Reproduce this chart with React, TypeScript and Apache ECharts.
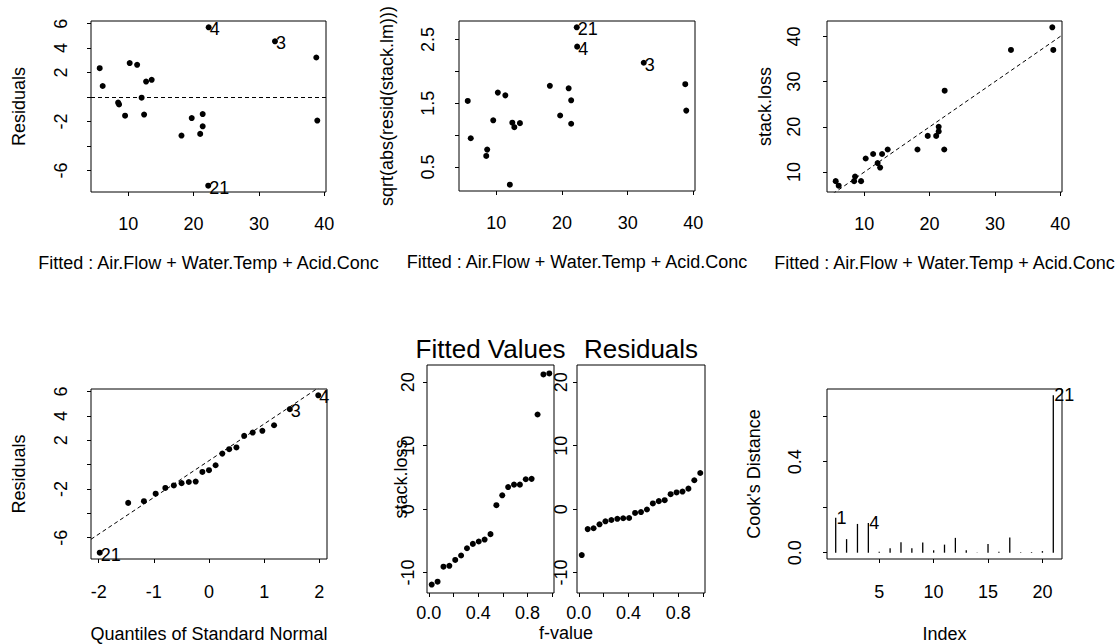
import React, { useEffect, useRef } from "react";
import * as echarts from "echarts";

const FONT = '"Liberation Sans", Arial, Helvetica, sans-serif';

// Run numbers of the stackloss observations
const runIds = ["1", "2", "3", "4", "5", "6", "7", "8", "9", "10", "11", "12", "13", "14", "15", "16", "17", "18", "19", "20", "21"];

// lm(stack.loss ~ Air.Flow + Water.Temp + Acid.Conc)
const fittedValues = [38.7658, 38.9175, 32.444, 22.302, 19.7119, 21.0071, 21.3896, 21.3896, 18.1444, 12.7333, 11.3637, 10.2215, 12.4287, 12.0501, 5.6386, 6.0948, 9.5204, 8.4555, 8.5983, 13.5879, 22.2378];
const residualValues = [3.2348, -1.9175, 4.556, 5.698, -1.7119, -3.0071, -2.3896, -1.3896, -3.1444, 1.2667, 2.6362, 2.7785, -1.4287, -0.0501, 2.3614, 0.9052, -1.5204, -0.4555, -0.5983, 1.4121, -7.2378];
const stackLoss = [42, 37, 37, 28, 18, 18, 19, 20, 15, 14, 14, 13, 11, 12, 8, 7, 8, 8, 9, 15, 15];
const sqrtAbsResiduals = [1.7986, 1.3847, 2.1345, 2.387, 1.3084, 1.7341, 1.5458, 1.1788, 1.7733, 1.1255, 1.6236, 1.6669, 1.1953, 0.2238, 1.5367, 0.9514, 1.233, 0.6749, 0.7735, 1.1883, 2.6903];

// Normal QQ plot of the residuals
const normalQuantiles = [-1.9807, -1.4653, -1.1798, -0.9674, -0.7916, -0.6375, -0.4972, -0.3661, -0.2411, -0.1196, 0, 0.1196, 0.2411, 0.3661, 0.4972, 0.6375, 0.7916, 0.9674, 1.1798, 1.4653, 1.9807];
const sortedResiduals = [-7.2378, -3.1444, -3.0071, -2.3896, -1.9175, -1.7119, -1.5204, -1.4287, -1.3896, -0.5983, -0.4555, -0.0501, 0.9052, 1.2667, 1.4121, 2.3614, 2.6362, 2.7785, 3.2348, 4.556, 5.698];
const sortedResidualRuns = ["21", "9", "6", "7", "2", "5", "17", "13", "8", "19", "18", "14", "16", "10", "20", "15", "11", "12", "1", "3", "4"];
const qqIntercept = 0.3248;
const qqSlope = 3.0195;

// Residual-fit spread
const fValues = [0.0238, 0.0714, 0.119, 0.1667, 0.2143, 0.2619, 0.3095, 0.3571, 0.4048, 0.4524, 0.5, 0.5476, 0.5952, 0.6429, 0.6905, 0.7381, 0.7857, 0.8333, 0.881, 0.9286, 0.9762];
const centeredFittedSorted = [-11.885, -11.429, -9.068, -8.926, -8.003, -7.302, -6.16, -5.474, -5.095, -4.791, -3.936, 0.621, 2.188, 3.483, 3.866, 3.866, 4.714, 4.778, 14.92, 21.242, 21.394];

// Cook's distance per run
const cooksDistance = [0.1538, 0.0597, 0.1265, 0.1308, 0.0038, 0.0195, 0.0465, 0.0191, 0.0445, 0.0106, 0.0355, 0.0652, 0.0105, 0.0005, 0.0383, 0.0042, 0.0663, 0.0022, 0.0029, 0.007, 0.6921];

// Ticks and labelled ticks
const fitTicks = [10, 20, 30, 40];
const residTicks = [-6, -4, -2, 0, 2, 4, 6];
const residLabels = [-6, -2, 2, 4, 6];
const sqrtTicks = [0.5, 1, 1.5, 2, 2.5];
const sqrtLabels = [0.5, 1.5, 2.5];
const lossTicks = [10, 20, 30, 40];
const quantTicks = [-2, -1, 0, 1, 2];
const rfsYTicks = [-10, 0, 10, 20];
const fTicks = [0, 0.2, 0.4, 0.6, 0.8, 1];
const fLabels = [0, 0.4, 0.8];
const indexTicks = [5, 10, 15, 20];
const cookTicks = [0, 0.2, 0.4, 0.6];
const cookLabels = [0, 0.4];

// Runs that get their number written next to the mark
const flaggedFit = ["3", "4", "21"];
const flaggedCook = ["1", "4", "21"];

const fitAxisTitle = "Fitted : Air.Flow + Water.Temp + Acid.Conc";

function padded(vals: number[]): number[] {
  const lo = Math.min(...vals);
  const hi = Math.max(...vals);
  const d = (hi - lo) * 0.04;
  return [lo - d, hi + d];
}

const grids = [
  { left: 91, top: 21, width: 235, height: 171 },
  { left: 459, top: 21, width: 236, height: 170 },
  { left: 827, top: 21, width: 235, height: 171 },
  { left: 91, top: 389, width: 236, height: 170 },
  { left: 427, top: 365, width: 127, height: 228 },
  { left: 577, top: 365, width: 128, height: 228 },
  { left: 827, top: 389, width: 235, height: 170 },
];

const textBase = { color: "#000", fontFamily: FONT, fontSize: 18 };

type AxisOpts = {
  grid: number;
  range: number[];
  ticks: number[];
  labels: number[];
  digits: number;
  margin: number;
  vertical?: boolean;
  name?: string;
  nameGap?: number;
};

function makeAxis(o: AxisOpts) {
  return {
    type: "value",
    gridIndex: o.grid,
    min: o.range[0],
    max: o.range[1],
    splitLine: { show: false },
    axisLine: { show: false, onZero: false },
    axisTick: {
      show: true,
      inside: false,
      length: 4,
      customValues: o.ticks,
      lineStyle: { color: "#000", width: 1 },
    },
    axisLabel: {
      show: true,
      customValues: o.labels,
      margin: o.margin,
      rotate: o.vertical ? 90 : 0,
      hideOverlap: false,
      ...textBase,
      formatter: (v: number) => Number(v).toFixed(o.digits),
    },
    name: o.name ?? "",
    nameLocation: "middle",
    nameGap: o.nameGap ?? 0,
    nameMoveOverlap: false,
    nameTextStyle: { ...textBase },
  };
}

function pointLabel(text: string) {
  return {
    show: true,
    formatter: text,
    position: [4, 5],
    align: "left",
    verticalAlign: "middle",
    ...textBase,
  };
}

const dashed = { color: "#000", width: 1, type: [4, 3] };
const dotStyle = { color: "#000", opacity: 1 };

function buildOption() {
  const fitX = padded(fittedValues);
  const residY = padded(residualValues);
  const sqrtY = padded(sqrtAbsResiduals);
  const lossY = padded(stackLoss);
  const quantX = padded(normalQuantiles);
  const rfsX = padded(fValues);
  const rfsY = padded([...centeredFittedSorted, ...sortedResiduals]);
  const indexX = padded(runIds.map(Number));
  const cookY = padded([0, ...cooksDistance]);

  const xAxis = [
    makeAxis({ grid: 0, range: fitX, ticks: fitTicks, labels: fitTicks, digits: 0, margin: 23, name: fitAxisTitle, nameGap: 62 }),
    makeAxis({ grid: 1, range: fitX, ticks: fitTicks, labels: fitTicks, digits: 0, margin: 23, name: fitAxisTitle, nameGap: 62 }),
    makeAxis({ grid: 2, range: fitX, ticks: fitTicks, labels: fitTicks, digits: 0, margin: 23, name: fitAxisTitle, nameGap: 62 }),
    makeAxis({ grid: 3, range: quantX, ticks: quantTicks, labels: quantTicks, digits: 0, margin: 24, name: "Quantiles of Standard Normal", nameGap: 66 }),
    makeAxis({ grid: 4, range: rfsX, ticks: fTicks, labels: fLabels, digits: 1, margin: 11 }),
    makeAxis({ grid: 5, range: rfsX, ticks: fTicks, labels: fLabels, digits: 1, margin: 11 }),
    makeAxis({ grid: 6, range: indexX, ticks: indexTicks, labels: indexTicks, digits: 0, margin: 24, name: "Index", nameGap: 66 }),
  ];

  const yAxis = [
    makeAxis({ grid: 0, range: residY, ticks: residTicks, labels: residLabels, digits: 0, margin: 21, vertical: true, name: "Residuals", nameGap: 63 }),
    makeAxis({ grid: 1, range: sqrtY, ticks: sqrtTicks, labels: sqrtLabels, digits: 1, margin: 22, vertical: true, name: "sqrt(abs(resid(stack.lm)))", nameGap: 63 }),
    makeAxis({ grid: 2, range: lossY, ticks: lossTicks, labels: lossTicks, digits: 0, margin: 24, vertical: true, name: "stack.loss", nameGap: 53 }),
    makeAxis({ grid: 3, range: residY, ticks: residTicks, labels: residLabels, digits: 0, margin: 21, vertical: true, name: "Residuals", nameGap: 63 }),
    makeAxis({ grid: 4, range: rfsY, ticks: rfsYTicks, labels: rfsYTicks, digits: 0, margin: 10, vertical: true, name: "stack.loss", nameGap: 17 }),
    makeAxis({ grid: 5, range: rfsY, ticks: rfsYTicks, labels: rfsYTicks, digits: 0, margin: 7, vertical: true }),
    makeAxis({ grid: 6, range: cookY, ticks: cookTicks, labels: cookLabels, digits: 1, margin: 23, vertical: true, name: "Cook's Distance", nameGap: 64 }),
  ];

  const scatterBase = {
    type: "scatter",
    symbol: "circle",
    symbolSize: 6,
    itemStyle: dotStyle,
    silent: true,
  };

  const series: any[] = [
    {
      ...scatterBase,
      xAxisIndex: 0,
      yAxisIndex: 0,
      data: fittedValues.map((x, i) => ({
        value: [x, residualValues[i]],
        label: flaggedFit.includes(runIds[i]) ? pointLabel(runIds[i]) : { show: false },
      })),
      markLine: {
        silent: true,
        symbol: ["none", "none"],
        label: { show: false },
        lineStyle: dashed,
        data: [{ yAxis: 0 }],
      },
    },
    {
      ...scatterBase,
      xAxisIndex: 1,
      yAxisIndex: 1,
      data: fittedValues.map((x, i) => ({
        value: [x, sqrtAbsResiduals[i]],
        label: flaggedFit.includes(runIds[i]) ? pointLabel(runIds[i]) : { show: false },
      })),
    },
    {
      ...scatterBase,
      xAxisIndex: 2,
      yAxisIndex: 2,
      data: fittedValues.map((x, i) => [x, stackLoss[i]]),
    },
    {
      type: "line",
      xAxisIndex: 2,
      yAxisIndex: 2,
      clip: true,
      showSymbol: false,
      silent: true,
      lineStyle: dashed,
      data: [
        [fitX[0], fitX[0]],
        [fitX[1], fitX[1]],
      ],
    },
    {
      ...scatterBase,
      xAxisIndex: 3,
      yAxisIndex: 3,
      data: normalQuantiles.map((q, i) => ({
        value: [q, sortedResiduals[i]],
        label: flaggedFit.includes(sortedResidualRuns[i]) ? pointLabel(sortedResidualRuns[i]) : { show: false },
      })),
    },
    {
      type: "line",
      xAxisIndex: 3,
      yAxisIndex: 3,
      clip: true,
      showSymbol: false,
      silent: true,
      lineStyle: dashed,
      data: [
        [quantX[0], qqIntercept + qqSlope * quantX[0]],
        [quantX[1], qqIntercept + qqSlope * quantX[1]],
      ],
    },
    {
      ...scatterBase,
      xAxisIndex: 4,
      yAxisIndex: 4,
      data: fValues.map((f, i) => [f, centeredFittedSorted[i]]),
    },
    {
      ...scatterBase,
      xAxisIndex: 5,
      yAxisIndex: 5,
      data: fValues.map((f, i) => [f, sortedResiduals[i]]),
    },
    {
      type: "bar",
      xAxisIndex: 6,
      yAxisIndex: 6,
      barWidth: 1.3,
      silent: true,
      itemStyle: { color: "#000", opacity: 1 },
      data: cooksDistance.map((d, i) => ({
        value: [i + 1, d],
        label: flaggedCook.includes(runIds[i])
          ? {
              show: true,
              formatter: runIds[i],
              position: [1.5, 0],
              align: "left",
              verticalAlign: "middle",
              ...textBase,
            }
          : { show: false },
      })),
    },
  ];

  const leftRfs = grids[4];
  const rightRfs = grids[5];

  const graphic = [
    {
      type: "text",
      x: leftRfs.left + leftRfs.width / 2,
      y: 349,
      silent: true,
      style: { text: "Fitted Values", align: "center", verticalAlign: "middle", fontFamily: FONT, fontSize: 26, fill: "#000" },
    },
    {
      type: "text",
      x: rightRfs.left + rightRfs.width / 2,
      y: 349,
      silent: true,
      style: { text: "Residuals", align: "center", verticalAlign: "middle", fontFamily: FONT, fontSize: 26, fill: "#000" },
    },
    {
      type: "text",
      x: (leftRfs.left + rightRfs.left + rightRfs.width) / 2,
      y: 633,
      silent: true,
      style: { text: "f-value", align: "center", verticalAlign: "middle", fontFamily: FONT, fontSize: 18, fill: "#000" },
    },
  ];

  return {
    animation: false,
    backgroundColor: "#fff",
    textStyle: { fontFamily: FONT },
    grid: grids.map((g) => ({
      ...g,
      show: true,
      borderColor: "#000",
      borderWidth: 1,
      backgroundColor: "transparent",
      containLabel: false,
      outerBoundsMode: "none",
    })),
    xAxis,
    yAxis,
    series,
    graphic,
  };
}

export default function App() {
  const ref = useRef<HTMLDivElement>(null);

  useEffect(() => {
    if (!ref.current) return;
    const chart = echarts.init(ref.current, null, { renderer: "svg" });
    chart.setOption(buildOption() as any);
    return () => {
      chart.dispose();
    };
  }, []);

  return (
    <div
      ref={ref}
      style={{ position: "absolute", left: 0, top: 0, width: 1119, height: 644, background: "#fff" }}
    />
  );
}
